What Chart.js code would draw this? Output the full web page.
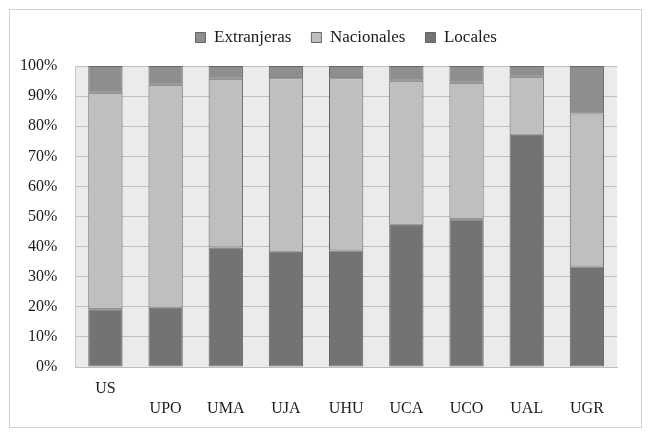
<!DOCTYPE html>
<html>
<head>
<meta charset="utf-8">
<script src="https://cdn.jsdelivr.net/npm/chart.js@4.4.1/dist/chart.umd.min.js"></script>
<style>
  html, body { margin: 0; padding: 0; background: #fff; }
  #wrap { width: 652px; height: 442px; position: relative; }
</style>
</head>
<body>
<div id="wrap"><canvas id="chart"></canvas></div>
<script>
// universidades
const universidades = ["US", "UPO", "UMA", "UJA", "UHU", "UCA", "UCO", "UAL", "UGR"];

// % de cada origen
const locales     = [19.2, 19.7, 39.7, 38.3, 38.7, 47.3, 49.1, 77.2, 33.4];
const nacionales  = [71.9, 74.1, 56.1, 57.6, 57.2, 47.8, 45.3, 19.2, 50.8];
const extranjeras = [8.9, 6.2, 4.2, 4.1, 4.1, 4.9, 5.6, 3.6, 15.8];

const yTicks = [0, 10, 20, 30, 40, 50, 60, 70, 80, 90, 100];

const FONT = "'Liberation Serif', 'Times New Roman', serif";

// US va en la primera linea, el resto en la segunda
const labels = universidades.map((u, i) => i === 0 ? u : ["", u]);

const frame = {
  id: 'frame',
  beforeDraw(chart) {
    const { ctx, chartArea: a } = chart;
    ctx.save();
    ctx.fillStyle = '#fff';
    ctx.fillRect(0, 0, chart.width, chart.height);
    ctx.fillStyle = '#ebebeb';
    ctx.fillRect(a.left, a.top, a.right - a.left, a.bottom - a.top);
    ctx.strokeStyle = '#cfcfcf';
    ctx.lineWidth = 1;
    ctx.strokeRect(9.5, 9.5, 632, 418);
    ctx.restore();
  }
};

const bar = (label, data, color) => ({
  label, data,
  backgroundColor: color,
  borderColor: '#656565',
  borderWidth: 1,
  borderSkipped: false,
  barPercentage: 0.57,
  categoryPercentage: 1
});

new Chart(document.getElementById('chart'), {
  type: 'bar',
  data: {
    labels,
    datasets: [
      bar('Locales', locales, '#737373'),
      bar('Nacionales', nacionales, '#bfbfbf'),
      bar('Extranjeras', extranjeras, '#8e8e8e')
    ]
  },
  options: {
    responsive: true,
    maintainAspectRatio: false,
    animation: false,
    layout: { padding: { left: 2, right: 35, top: 9, bottom: 11 } },
    plugins: {
      legend: {
        reverse: true,
        fullSize: false,
        labels: {
          boxWidth: 10,
          boxHeight: 10,
          padding: 20,
          color: '#1a1a1a',
          font: { family: FONT, size: 17 }
        }
      },
      // hueco vacio entre leyenda y grafico
      title: {
        display: true,
        text: '',
        weight: 500,
        padding: 0,
        font: { size: 10, lineHeight: 1 }
      },
      tooltip: { enabled: false }
    },
    scales: {
      x: {
        stacked: true,
        grid: { display: false, drawTicks: false },
        border: { display: true, color: '#bdbdbd' },
        ticks: {
          padding: 12,
          color: '#1a1a1a',
          font: { family: FONT, size: 16, lineHeight: 1.25 },
          maxRotation: 0
        }
      },
      y: {
        stacked: true,
        min: 0,
        max: 100,
        afterBuildTicks: axis => { axis.ticks = yTicks.map(v => ({ value: v })); },
        grid: { color: '#c0c0c0', lineWidth: 1, drawTicks: false },
        border: { display: true, color: '#cccccc' },
        ticks: {
          padding: 18,
          color: '#1a1a1a',
          font: { family: FONT, size: 16 },
          callback: v => v + '%'
        }
      }
    }
  },
  plugins: [frame]
});
</script>
</body>
</html>
